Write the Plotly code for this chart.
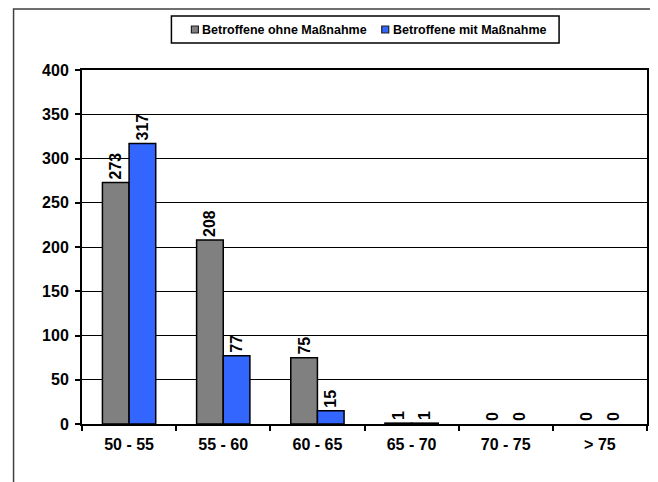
import plotly.graph_objects as go

categories = ["50 - 55", "55 - 60", "60 - 65", "65 - 70", "70 - 75", "> 75"]
ohne = [273, 208, 75, 1, 0, 0]
mit = [317, 77, 15, 1, 0, 0]
series_names = ["Betroffene ohne Maßnahme", "Betroffene mit Maßnahme"]
series_colors = ["#808080", "#3366FF"]
y_ticks = [0, 50, 100, 150, 200, 250, 300, 350, 400]

# page body has an 8px margin -> figure is offset by 8px
OFF = 8
W, H = 658 - OFF, 482 - OFF
# plot area in screen pixels
SX0, SX1, SY0, SY1 = 81.5, 647.0, 70.0, 424.0
L, R, T, B = SX0 - OFF, 658 - SX1, SY0 - OFF, 482 - SY1
pw, ph = SX1 - SX0, SY1 - SY0


def px_x(sx):
    return (sx - SX0) / pw


def px_y(sy):
    return (SY1 - sy) / ph


FONT = "Arial, 'Liberation Sans', sans-serif"

fig = go.Figure()
for name, vals, col in zip(series_names, [ohne, mit], series_colors):
    fig.add_trace(go.Bar(
        x=categories, y=vals, name=name, showlegend=False,
        marker=dict(color=col, line=dict(color="black",
                                         width=[1.5 if v > 0 else 0 for v in vals])),
        text=[str(v) for v in vals], textposition="outside", textangle=-90,
        textfont=dict(family=FONT, size=16, color="black", weight="bold"),
        cliponaxis=False,
    ))

fig.update_layout(
    width=W, height=H,
    margin=dict(l=L, r=R, t=T, b=B, pad=0, autoexpand=False),
    paper_bgcolor="white", plot_bgcolor="white",
    barmode="group", bargap=0.434, bargroupgap=0,
    font=dict(family=FONT, size=14, color="black", weight="bold"),
    uniformtext=dict(mode=False),
)
fig.update_xaxes(
    showline=True, linecolor="black", linewidth=2, mirror=True,
    ticks="outside", tickson="boundaries", ticklen=5, tickwidth=1.5, tickcolor="black",
    tickfont=dict(family=FONT, size=16, color="black", weight="bold"),
    ticklabelstandoff=5,
    showgrid=False,
)
fig.update_yaxes(
    range=[0, 400], tickvals=y_ticks, ticktext=[str(v) for v in y_ticks],
    showline=True, linecolor="black", linewidth=2, mirror=True,
    ticks="outside", ticklen=5, tickwidth=1.5, tickcolor="black",
    showgrid=True, gridcolor="black", gridwidth=1, zeroline=False,
    tickfont=dict(family=FONT, size=16, color="black", weight="bold"),
    ticklabelstandoff=3,
)

# outer chart frame
fig.add_shape(type="rect", xref="paper", yref="paper",
              x0=px_x(13), x1=px_x(653), y0=px_y(520), y1=px_y(9),
              line=dict(color="#404040", width=1.5), layer="below")

# legend (box, swatches, labels)
fig.add_shape(type="rect", xref="paper", yref="paper",
              x0=px_x(171), x1=px_x(559), y0=px_y(43), y1=px_y(16),
              line=dict(color="black", width=1.5), fillcolor="white", layer="above")
legend_items = [(191, 199.5), (381.5, 390.5)]
for (sx, tx), name, col in zip(legend_items, series_names, series_colors):
    fig.add_shape(type="rect", xref="paper", yref="paper",
                  x0=px_x(sx), x1=px_x(sx + 7), y0=px_y(33), y1=px_y(26),
                  line=dict(color="#202020", width=1.2), fillcolor=col, layer="above")
    fig.add_annotation(xref="paper", yref="paper", x=px_x(tx), y=px_y(29.5),
                       xanchor="left", yanchor="middle", showarrow=False,
                       text=name, font=dict(family=FONT, size=12.5, color="black", weight="bold"))

fig.write_html("out.html")
